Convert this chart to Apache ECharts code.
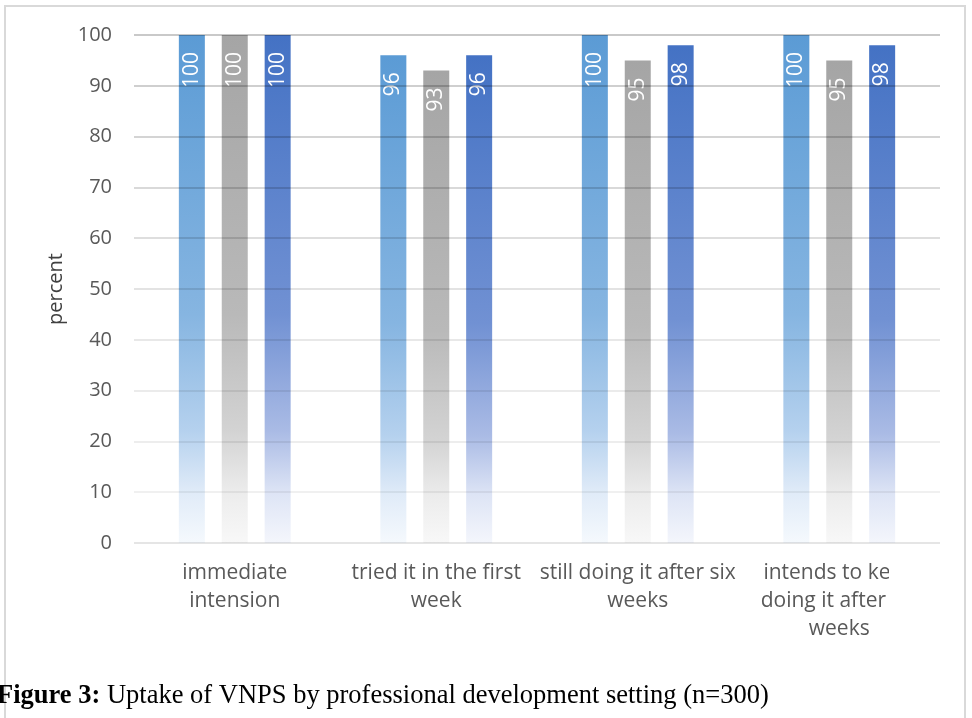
<!DOCTYPE html>
<html>
<head>
<meta charset="utf-8">
<script src="https://cdn.jsdelivr.net/npm/echarts@6/dist/echarts.min.js"></script>
<style>
  html, body { margin: 0; padding: 0; background: #fff; }
  #chart { width: 972px; height: 718px; }
</style>
</head>
<body>
<div id="chart"></div>
<script>
// data
const categories = [
  'immediate\nintension',
  'tried it in the first\nweek',
  'still doing it after six\nweeks',
  'intends to keep\ndoing it after six\nweeks'
];
const settingA = [100, 96, 100, 100];
const settingB = [100, 93, 95, 95];
const settingC = [100, 96, 98, 98];
const yTicks = [0, 10, 20, 30, 40, 50, 60, 70, 80, 90, 100];

const chart = echarts.init(document.getElementById('chart'));

// excel-ish fade to white at the bottom of each bar
function fade(stops) {
  return new echarts.graphic.LinearGradient(0, 0, 0, 1, [
    { offset: 0, color: stops[0] },
    { offset: 0.55, color: stops[1] },
    { offset: 0.78, color: stops[2] },
    { offset: 0.9, color: stops[3] },
    { offset: 1, color: stops[4] }
  ]);
}

const barLabel = {
  show: true,
  position: 'insideTop',
  rotate: 90,
  align: 'right',
  verticalAlign: 'middle',
  distance: 17,
  color: '#fff',
  fontSize: 21,
  fontFamily: 'Open Sans'
};

function barSeries(name, data, stops) {
  return {
    name: name,
    type: 'bar',
    data: data,
    barWidth: 26,
    barGap: '65%',
    itemStyle: { color: fade(stops) },
    label: barLabel,
    z: 2
  };
}

// gridlines get lighter towards the bottom
const gridColors = [
  'rgba(0,0,0,0.10)', 'rgba(0,0,0,0.06)', 'rgba(0,0,0,0.07)', 'rgba(0,0,0,0.08)',
  'rgba(0,0,0,0.09)', 'rgba(0,0,0,0.11)', 'rgba(0,0,0,0.13)', 'rgba(0,0,0,0.15)',
  'rgba(0,0,0,0.17)', 'rgba(0,0,0,0.19)', 'rgba(0,0,0,0.21)'
];

chart.setOption({
  animation: false,
  grid: { left: 134, right: 32, top: 35, bottom: 175 },
  xAxis: {
    type: 'category',
    data: categories,
    axisTick: { show: false },
    axisLine: { show: false },
    axisLabel: {
      color: '#595959',
      fontSize: 21,
      fontFamily: 'Open Sans',
      lineHeight: 28,
      margin: 16,
      interval: 0
    }
  },
  yAxis: {
    type: 'value',
    min: yTicks[0],
    max: yTicks[yTicks.length - 1],
    interval: 10,
    z: 3,
    name: 'percent',
    nameLocation: 'middle',
    nameRotate: 90,
    nameGap: 68,
    nameTextStyle: { color: '#404040', fontSize: 20, fontFamily: 'Open Sans' },
    axisLine: { show: false },
    axisTick: { show: false },
    axisLabel: { color: '#595959', fontSize: 20, fontFamily: 'Open Sans', margin: 22 },
    splitLine: { lineStyle: { color: gridColors, width: 2 } }
  },
  series: [
    barSeries('setting A', settingA, ['#5b9bd5', '#86b5e1', '#b5d1ee', '#e0ebf8', '#f5f9fd']),
    barSeries('setting B', settingB, ['#a5a5a5', '#b9b9b9', '#d3d3d3', '#ececec', '#f8f8f8']),
    barSeries('setting C', settingC, ['#4472c4', '#7191d3', '#aabbe5', '#dde4f5', '#f4f6fc'])
  ],
  graphic: [
    {
      // the source image cuts the last category label off here
      type: 'rect',
      shape: { x: 889, y: 553, width: 71, height: 100 },
      style: { fill: '#fff' },
      z: 50
    },
    {
      type: 'rect',
      shape: { x: 5, y: 6, width: 960, height: 780 },
      style: { fill: 'none', stroke: '#d9d9d9', lineWidth: 2 },
      z: 60
    },
    {
      type: 'text',
      left: -3,
      top: 683,
      z: 70,
      style: {
        text: '{b|Figure 3:} Uptake of VNPS by professional development setting (n=300)',
        fontFamily: 'Liberation Serif',
        fontSize: 26.5,
        fill: '#000',
        rich: {
          b: { fontFamily: 'Liberation Serif', fontSize: 26.5, fontWeight: 'bold', fill: '#000' }
        }
      }
    }
  ]
});
</script>
</body>
</html>
